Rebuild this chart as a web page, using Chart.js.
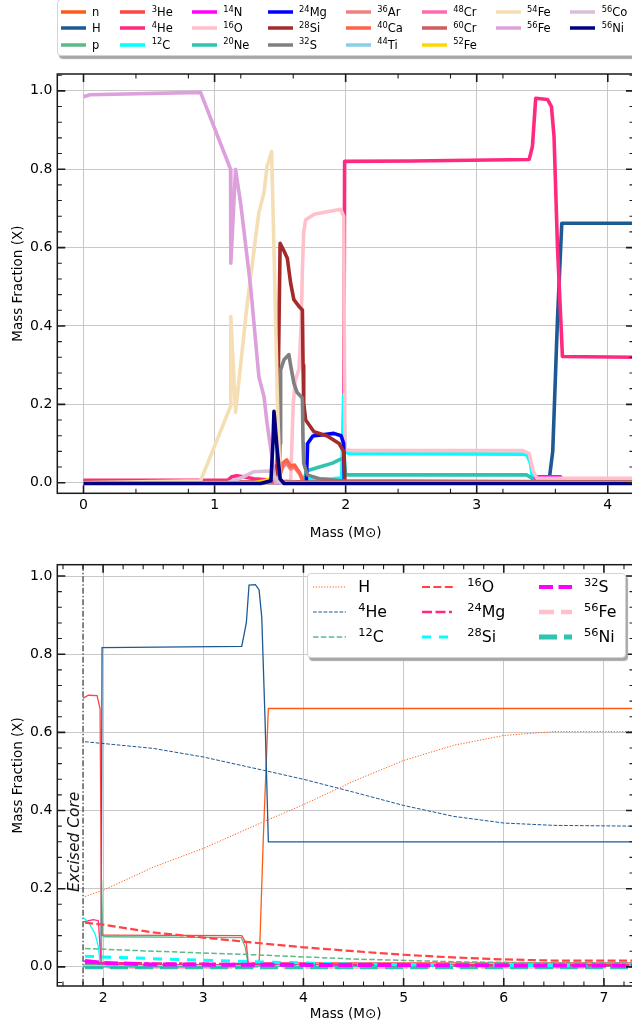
<!DOCTYPE html>
<html lang="en">
<head>
<meta charset="UTF-8">
<title>Mass fraction profiles</title>
<script src="https://cdn.jsdelivr.net/npm/chart.js"></script>
<style>
    body {
        margin: 0;
        width: 632px;
        height: 1032px;
        overflow: hidden;
        position: relative;
        background: #fff;
        font-family: "DejaVu Sans", sans-serif;
    }
    canvas { position: absolute; left: 0; }
    #topChart { top: 60px; }
    #bottomChart { top: 550px; }
    .legend-box {
        position: absolute;
        background: #fff;
        border: 1px solid #d4d4d4;
        border-radius: 4px;
        box-shadow: 2px 3px 1px #a8a8a8;
    }
    .item { position: absolute; white-space: nowrap; color: #000; }
    .item svg { position: absolute; left: 0; top: 0; }
    .item span { position: absolute; top: 0; }
    sup { font-size: 0.72em; vertical-align: baseline; position: relative; top: -0.5em; }
</style>
</head>
<body>
<canvas id="topChart" width="640" height="490"></canvas>
<canvas id="bottomChart" width="640" height="482"></canvas>

<script>
// ---------- top panel : composition vs mass ----------
const topXTicks = [0, 1, 2, 3, 4];
const botXTicks = [2, 3, 4, 5, 6, 7];
const yTicks = [0, 0.2, 0.4, 0.6, 0.8, 1.0];

const topNames = ['n', 'H', 'p', '3He', '4He', '12C', '14N', '16O', '20Ne', '24Mg', '28Si',
                  '32S', '36Ar', '40Ca', '44Ti', '48Cr', '60Cr', '52Fe', '54Fe', '56Fe', '56Co', '56Ni'];
const palette = ['#ff5b14', '#1d5a94', '#5cb98a', '#ff4444', '#ff2a80', '#00ffff', '#ff00ff', '#ffc0cb',
                 '#2ec4b0', '#0000ff', '#a52a2a', '#808080', '#f08080', '#ff6347', '#87ceeb', '#ff69b4',
                 '#cd5c5c', '#ffd700', '#f5deb3', '#dda0dd', '#d8bfd8', '#000080'];

const n_x = [0, 1.10, 1.15, 4.2];
const n_y = [0.004, 0.004, 0, 0];
const H_x = [0, 3.55, 3.58, 3.616, 3.649, 4.2];
const H_y = [0, 0, 0.08, 0.416, 0.662, 0.662];
const p_x = [0, 4.2];
const p_y = [0, 0];
const He3_x = [0, 4.2];
const He3_y = [0.001, 0.001];
const He4_x = [0, 1.10, 1.13, 1.17, 1.22, 1.30, 1.45, 1.50, 1.985, 1.992, 2.5, 3.40, 3.425, 3.45, 3.54, 3.57, 3.59, 3.616, 3.654, 4.2];
const He4_y = [0.006, 0.006, 0.015, 0.018, 0.015, 0.010, 0.006, 0.002, 0.002, 0.820, 0.821, 0.825, 0.858, 0.981, 0.978, 0.960, 0.883, 0.603, 0.322, 0.320];
const C12_x = [0, 1.65, 1.69, 1.90, 1.97, 1.985, 1.995, 2.02, 3.38, 3.41, 3.43, 4.2];
const C12_y = [0, 0, 0.008, 0.010, 0.012, 0.224, 0.080, 0.075, 0.073, 0.050, 0.002, 0.002];
const N14_x = [0, 3.43, 3.45, 3.64, 3.66, 4.2];
const N14_y = [0, 0, 0.015, 0.015, 0.003, 0.003];
const O16_x = [0, 1.58, 1.60, 1.615, 1.644, 1.66, 1.67, 1.68, 1.695, 1.76, 1.90, 1.962, 1.985, 1.995, 2.05, 3.35, 3.40, 3.43, 3.46, 4.2];
const O16_y = [0, 0, 0.20, 0.26, 0.29, 0.40, 0.543, 0.64, 0.671, 0.685, 0.694, 0.698, 0.680, 0.084, 0.082, 0.082, 0.075, 0.030, 0.011, 0.011];
const Ne20_x = [0, 1.68, 1.70, 1.80, 1.90, 1.962, 1.99, 2.00, 3.38, 3.42, 3.44, 4.2];
const Ne20_y = [0, 0, 0.030, 0.040, 0.050, 0.060, 0.063, 0.020, 0.020, 0.012, 0.002, 0.002];
const Mg24_x = [0, 1.70, 1.71, 1.75, 1.91, 1.965, 1.985, 1.99, 4.2];
const Mg24_y = [0, 0, 0.100, 0.119, 0.126, 0.120, 0.100, 0, 0];
const Si28_x = [0, 1.465, 1.477, 1.50, 1.527, 1.555, 1.58, 1.605, 1.644, 1.67, 1.675, 1.68, 1.695, 1.758, 1.86, 1.95, 1.985, 1.995, 4.2];
const Si28_y = [0, 0, 0.05, 0.611, 0.593, 0.573, 0.510, 0.467, 0.450, 0.441, 0.300, 0.203, 0.160, 0.130, 0.119, 0.100, 0.080, 0, 0];
const S32_x = [0, 1.49, 1.50, 1.504, 1.53, 1.567, 1.58, 1.605, 1.63, 1.67, 1.675, 1.68, 1.707, 1.80, 1.97, 4.2];
const S32_y = [0, 0, 0.10, 0.288, 0.314, 0.327, 0.300, 0.254, 0.230, 0.216, 0.100, 0.050, 0.020, 0.010, 0.005, 0.002];
const Ar36_x = [0, 1.48, 1.52, 1.55, 1.58, 1.61, 1.65, 1.68, 4.2];
const Ar36_y = [0, 0, 0.040, 0.050, 0.035, 0.040, 0.022, 0, 0];
const Ca40_x = [0, 1.48, 1.52, 1.55, 1.58, 1.61, 1.65, 1.68, 4.2];
const Ca40_y = [0, 0, 0.050, 0.058, 0.042, 0.045, 0.025, 0, 0];
const Ti44_x = [0, 1.45, 1.55, 1.65, 4.2];
const Ti44_y = [0, 0, 0.004, 0, 0];
const Cr48_x = [0, 1.30, 1.45, 1.55, 4.2];
const Cr48_y = [0, 0, 0.006, 0, 0];
const Cr60_x = [0, 4.2];
const Cr60_y = [0.002, 0.002];
const Fe52_x = [0, 1.30, 1.38, 1.45, 1.48, 1.52, 4.2];
const Fe52_y = [0, 0, 0.005, 0.012, 0.010, 0, 0];
const Fe54_x = [0, 0.893, 1.122, 1.124, 1.16, 1.25, 1.338, 1.377, 1.40, 1.435, 1.46, 1.48, 1.50, 4.2];
const Fe54_y = [0, 0.005, 0.195, 0.424, 0.180, 0.460, 0.690, 0.740, 0.807, 0.845, 0.500, 0.200, 0, 0];
const Fe56_x = [0, 0.05, 0.893, 1.122, 1.124, 1.16, 1.20, 1.275, 1.338, 1.377, 1.40, 1.44, 1.465, 4.2];
const Fe56_y = [0.985, 0.990, 0.996, 0.800, 0.560, 0.800, 0.710, 0.500, 0.270, 0.220, 0.153, 0.060, 0, 0];
const Co56_x = [0, 1.10, 1.20, 1.30, 1.43, 1.47, 1.50, 4.2];
const Co56_y = [0, 0, 0.012, 0.028, 0.030, 0.010, 0, 0];
const Ni56_x = [0, 1.35, 1.43, 1.445, 1.453, 1.478, 1.50, 1.53, 4.2];
const Ni56_y = [-0.002, -0.002, 0.005, 0.100, 0.182, 0.083, 0.010, -0.002, -0.002];

// ---------- bottom panel : excised profile (solid) and mixed profile (dashed) ----------
const excisedCore = 1.8;
const botNames = ['H', '4He', '12C', '16O', '24Mg', '28Si', '32S', '56Fe', '56Ni'];

const sH_x = [1.8, 3.54, 3.56, 3.60, 3.65, 7.3];
const sH_y = [0, 0, 0.02, 0.333, 0.661, 0.661];
const sHe4_x = [1.8, 1.98, 1.99, 3.384, 3.43, 3.457, 3.52, 3.557, 3.584, 3.617, 3.65, 7.3];
const sHe4_y = [0.002, 0.002, 0.817, 0.820, 0.880, 0.977, 0.978, 0.965, 0.895, 0.631, 0.320, 0.320];
const sC12_x = [1.8, 1.98, 1.985, 1.995, 2.02, 3.38, 3.42, 3.45, 7.3];
const sC12_y = [0.005, 0.005, 0.222, 0.080, 0.077, 0.075, 0.050, 0.002, 0.004];
const sO16_x = [1.8, 1.853, 1.94, 1.97, 1.985, 2.0, 3.384, 3.43, 3.45, 3.5, 7.3];
const sO16_y = [0.687, 0.695, 0.694, 0.660, 0.081, 0.081, 0.080, 0.060, 0.008, 0.010, 0.010];
const sMg24_x = [1.8, 1.903, 1.953, 1.97, 1.98, 7.3];
const sMg24_y = [0.115, 0.121, 0.118, 0.050, 0.005, 0.005];
const sSi28_x = [1.8, 1.853, 1.92, 1.953, 1.97, 1.98, 7.3];
const sSi28_y = [0.126, 0.115, 0.085, 0.051, 0.010, 0.002, 0.002];
const sS32_x = [1.8, 1.95, 1.97, 7.3];
const sS32_y = [0.015, 0.012, 0.003, 0.002];
const sFe56_x = [1.8, 7.3];
const sFe56_y = [0.003, 0.003];
const sNi56_x = [1.8, 7.3];
const sNi56_y = [0.001, 0.001];

const mH_x = [1.82, 2.0, 2.5, 3.0, 3.6, 4.0, 4.5, 5.0, 5.5, 6.0, 6.5, 7.3];
const mH_y = [0.180, 0.196, 0.255, 0.303, 0.371, 0.415, 0.475, 0.528, 0.567, 0.592, 0.602, 0.602];
const mHe4_x = [1.82, 2.5, 3.0, 3.6, 4.0, 4.5, 5.0, 5.5, 6.0, 6.5, 7.3];
const mHe4_y = [0.576, 0.559, 0.537, 0.503, 0.480, 0.447, 0.413, 0.385, 0.368, 0.362, 0.360];
const mC12_x = [1.82, 2.5, 3.5, 4.5, 5.5, 6.5, 7.3];
const mC12_y = [0.047, 0.040, 0.031, 0.020, 0.013, 0.010, 0.010];
const mO16_x = [1.82, 2.0, 2.5, 3.0, 3.5, 4.0, 4.5, 5.0, 5.5, 6.0, 6.5, 7.3];
const mO16_y = [0.113, 0.108, 0.088, 0.075, 0.062, 0.050, 0.040, 0.031, 0.024, 0.019, 0.016, 0.016];
const mMg24_x = [1.82, 3.5, 5.5, 7.3];
const mMg24_y = [0.010, 0.007, 0.004, 0.004];
const mSi28_x = [1.82, 2.5, 3.5, 4.5, 5.5, 7.3];
const mSi28_y = [0.027, 0.021, 0.013, 0.007, 0.004, 0.003];
const mS32_x = [1.82, 2.0, 2.5, 7.3];
const mS32_y = [0.015, 0.010, 0.006, 0.003];
const mFe56_x = [1.82, 7.3];
const mFe56_y = [0, 0];
const mNi56_x = [1.82, 7.3];
const mNi56_y = [0, 0];

// line styles of the mixed profiles (width, dash)
const mixWidth = [1.0, 1.0, 1.5, 2.2, 2.5, 3.0, 4.0, 4.5, 5.0];
const mixDash = [[1.2, 1.6], [3.7, 1.6], [5.5, 2.4], [8, 3.4], [10, 3.5, 10, 3.5, 3, 3.5], [9, 8], [14, 5.5], [15, 7], [18, 7]];

const topSeries = [
    [n_x, n_y], [H_x, H_y], [p_x, p_y], [He3_x, He3_y], [He4_x, He4_y], [C12_x, C12_y], [N14_x, N14_y],
    [O16_x, O16_y], [Ne20_x, Ne20_y], [Mg24_x, Mg24_y], [Si28_x, Si28_y], [S32_x, S32_y], [Ar36_x, Ar36_y],
    [Ca40_x, Ca40_y], [Ti44_x, Ti44_y], [Cr48_x, Cr48_y], [Cr60_x, Cr60_y], [Fe52_x, Fe52_y],
    [Fe54_x, Fe54_y], [Fe56_x, Fe56_y], [Co56_x, Co56_y], [Ni56_x, Ni56_y]
];
const solidSeries = [[sH_x, sH_y], [sHe4_x, sHe4_y], [sC12_x, sC12_y], [sO16_x, sO16_y], [sMg24_x, sMg24_y],
    [sSi28_x, sSi28_y], [sS32_x, sS32_y], [sFe56_x, sFe56_y], [sNi56_x, sNi56_y]];
const mixSeries = [[mH_x, mH_y], [mHe4_x, mHe4_y], [mC12_x, mC12_y], [mO16_x, mO16_y], [mMg24_x, mMg24_y],
    [mSi28_x, mSi28_y], [mS32_x, mS32_y], [mFe56_x, mFe56_y], [mNi56_x, mNi56_y]];

Chart.defaults.font.family = "'DejaVu Sans', sans-serif";
Chart.defaults.color = '#000';

function pts(xs, ys) {
    return xs.map((x, i) => ({ x: x, y: ys[i] }));
}

function minorTicks(step, lo, hi, majors) {
    const out = [];
    for (let k = Math.ceil(lo / step - 1e-9); k * step <= hi + 1e-9; k++) {
        const v = +(k * step).toFixed(6);
        if (!majors.some(m => Math.abs(m - v) < 1e-6)) out.push(v);
    }
    return out;
}

// box + inward ticks on all four sides, like the matplotlib axes
const framePlugin = {
    id: 'frame',
    afterDatasetsDraw(chart, args, o) {
        const { ctx, chartArea: a } = chart;
        const sx = chart.scales.x, sy = chart.scales.y;
        ctx.save();
        ctx.strokeStyle = '#1a1a1a';
        const xt = (vals, len, w) => {
            ctx.lineWidth = w;
            ctx.beginPath();
            vals.forEach(v => {
                const p = sx.getPixelForValue(v);
                ctx.moveTo(p, a.bottom); ctx.lineTo(p, a.bottom - len);
                ctx.moveTo(p, a.top); ctx.lineTo(p, a.top + len);
            });
            ctx.stroke();
        };
        const yt = (vals, len, w) => {
            ctx.lineWidth = w;
            ctx.beginPath();
            vals.forEach(v => {
                const p = sy.getPixelForValue(v);
                ctx.moveTo(a.left, p); ctx.lineTo(a.left + len, p);
                ctx.moveTo(a.right, p); ctx.lineTo(a.right - len, p);
            });
            ctx.stroke();
        };
        xt(o.xMajor, 8, 1.6);
        xt(o.xMinor, 4.5, 1.1);
        yt(o.yMajor, 8, 1.6);
        yt(o.yMinor, 4.5, 1.1);
        ctx.lineWidth = 1.5;
        ctx.strokeRect(a.left, a.top, a.right - a.left, a.bottom - a.top);
        ctx.restore();
    }
};

const excisedPlugin = {
    id: 'excised',
    beforeDatasetsDraw(chart, args, o) {
        if (!o.show) return;
        const { ctx, chartArea: a } = chart;
        const px = chart.scales.x.getPixelForValue(excisedCore);
        ctx.save();
        ctx.strokeStyle = '#333';
        ctx.lineWidth = 1.2;
        ctx.setLineDash([6, 2, 1.5, 2]);
        ctx.beginPath();
        ctx.moveTo(px, a.top);
        ctx.lineTo(px, a.bottom);
        ctx.stroke();
        ctx.setLineDash([]);
        ctx.translate(px - 8.5, chart.scales.y.getPixelForValue(0.32));
        ctx.rotate(-Math.PI / 2);
        ctx.font = "italic 15.5px 'DejaVu Sans'";
        ctx.fillStyle = '#111';
        ctx.textAlign = 'center';
        ctx.textBaseline = 'middle';
        ctx.fillText('Excised Core', 0, 0);
        ctx.restore();
    }
};

function axes(xmin, xmax, xTicks, ymin, ymax, axisH, titlePadX) {
    return {
        x: {
            type: 'linear', min: xmin, max: xmax,
            afterBuildTicks: s => { s.ticks = xTicks.map(v => ({ value: v })); },
            afterFit: s => { s.height = axisH; },
            ticks: { font: { size: 14 }, padding: 4, maxRotation: 0, autoSkip: false, callback: v => String(v) },
            grid: { color: '#c8c8c8', lineWidth: 1, drawTicks: false },
            border: { display: false },
            title: { display: true, text: 'Mass (M\u2299)', font: { size: 13.5 }, padding: { top: 0, bottom: titlePadX } }
        },
        y: {
            type: 'linear', min: ymin, max: ymax,
            afterBuildTicks: s => { s.ticks = yTicks.map(v => ({ value: v })); },
            afterFit: s => { s.width = 57.3; },
            ticks: { font: { size: 14 }, padding: 5, callback: v => v.toFixed(1) },
            grid: { color: '#c8c8c8', lineWidth: 1, drawTicks: false },
            border: { display: false },
            title: { display: true, text: 'Mass Fraction (X)', font: { size: 13.5 }, padding: { top: 10, bottom: 0 } }
        }
    };
}

const topDatasets = topSeries.map((s, i) => ({
    label: topNames[i],
    data: pts(s[0], s[1]),
    borderColor: palette[i],
    borderWidth: 3.6,
    borderJoinStyle: 'round',
    pointRadius: 0,
    tension: 0,
    order: -i
}));

new Chart(document.getElementById('topChart'), {
    type: 'line',
    data: { datasets: topDatasets },
    options: {
        responsive: false,
        animation: false,
        layout: { padding: { top: 14, right: 6, left: 0, bottom: 0 } },
        scales: axes(-0.2, 4.2, topXTicks, -0.027, 1.043, 56.7, 8.2),
        plugins: {
            legend: { display: false },
            tooltip: { enabled: false },
            frame: { xMajor: topXTicks, xMinor: minorTicks(0.4, -0.2, 4.2, topXTicks),
                     yMajor: yTicks, yMinor: minorTicks(0.04, -0.027, 1.043, yTicks) },
            excised: { show: false }
        }
    },
    plugins: [framePlugin, excisedPlugin]
});

// mixed 56Fe / 56Ni sit at zero underneath everything, then the excised solids, then the other mixed curves
const botDatasets = [];
mixSeries.forEach((s, i) => botDatasets.push({
    label: botNames[i],
    data: pts(s[0], s[1]),
    borderColor: palette[i],
    borderWidth: mixWidth[i],
    borderDash: mixDash[i],
    pointRadius: 0,
    tension: 0,
    order: i >= 7 ? 50 - i : -(i + 20)
}));
solidSeries.forEach((s, i) => botDatasets.push({
    label: botNames[i] + ' excised',
    data: pts(s[0], s[1]),
    borderColor: palette[i],
    borderWidth: 1.3,
    pointRadius: 0,
    tension: 0,
    order: -i
}));

new Chart(document.getElementById('bottomChart'), {
    type: 'line',
    data: { datasets: botDatasets },
    options: {
        responsive: false,
        animation: false,
        layout: { padding: { top: 14.7, right: 6, left: 0, bottom: 0 } },
        scales: axes(1.543, 7.3, botXTicks, -0.049, 1.029, 46, 9.2),
        plugins: {
            legend: { display: false },
            tooltip: { enabled: false },
            frame: { xMajor: botXTicks, xMinor: minorTicks(0.2, 1.543, 7.3, botXTicks),
                     yMajor: yTicks, yMinor: minorTicks(0.04, -0.049, 1.029, yTicks) },
            excised: { show: true }
        }
    },
    plugins: [framePlugin, excisedPlugin]
});

// ---------- legends (column-major, as in the figure) ----------
function labelHtml(name) {
    const m = /^(\d+)(.+)$/.exec(name);
    return m ? '<sup>' + m[1] + '</sup>' + m[2] : name;
}

function addBox(left, top, width, height) {
    const d = document.createElement('div');
    d.className = 'legend-box';
    Object.assign(d.style, { left: left + 'px', top: top + 'px', width: width + 'px', height: height + 'px' });
    document.body.appendChild(d);
}

function addItem(left, cy, name, color, lw, dash, swatchW, textOff, fontSize) {
    const h = 20;
    const d = document.createElement('div');
    d.className = 'item';
    Object.assign(d.style, { left: left + 'px', top: (cy - h / 2) + 'px', height: h + 'px',
                             lineHeight: h + 'px', fontSize: fontSize + 'px' });
    const da = dash ? ' stroke-dasharray="' + dash.join(',') + '"' : '';
    d.innerHTML = '<svg width="' + swatchW + '" height="' + h + '"><line x1="0" x2="' + swatchW +
        '" y1="' + h / 2 + '" y2="' + h / 2 + '" stroke="' + color + '" stroke-width="' + lw + '"' + da +
        '/></svg><span style="left:' + textOff + 'px">' + labelHtml(name) + '</span>';
    document.body.appendChild(d);
}

addBox(57.3, -1, 600, 55);
const topCols = [60.5, 120.3, 191.7, 267.6, 345.8, 421.7, 495.6, 570.2];
const topPerCol = [3, 3, 3, 3, 3, 3, 2, 2];
const topRows = [12, 28, 44.5];
let idx = 0;
topPerCol.forEach((count, c) => {
    for (let r = 0; r < count; r++, idx++) {
        addItem(topCols[c], topRows[r], topNames[idx], palette[idx], 3.5, null, 25, 31.5, 11.5);
    }
});

addBox(307.3, 573.3, 317, 82.5);
const botCols = [312.7, 421.7, 538.5];
const botRows = [586.7, 611.7, 636.7];
botNames.forEach((name, i) => {
    addItem(botCols[Math.floor(i / 3)], botRows[i % 3], name, palette[i], mixWidth[i], mixDash[i], 33, 45.5, 15.8);
});
</script>
</body>
</html>
